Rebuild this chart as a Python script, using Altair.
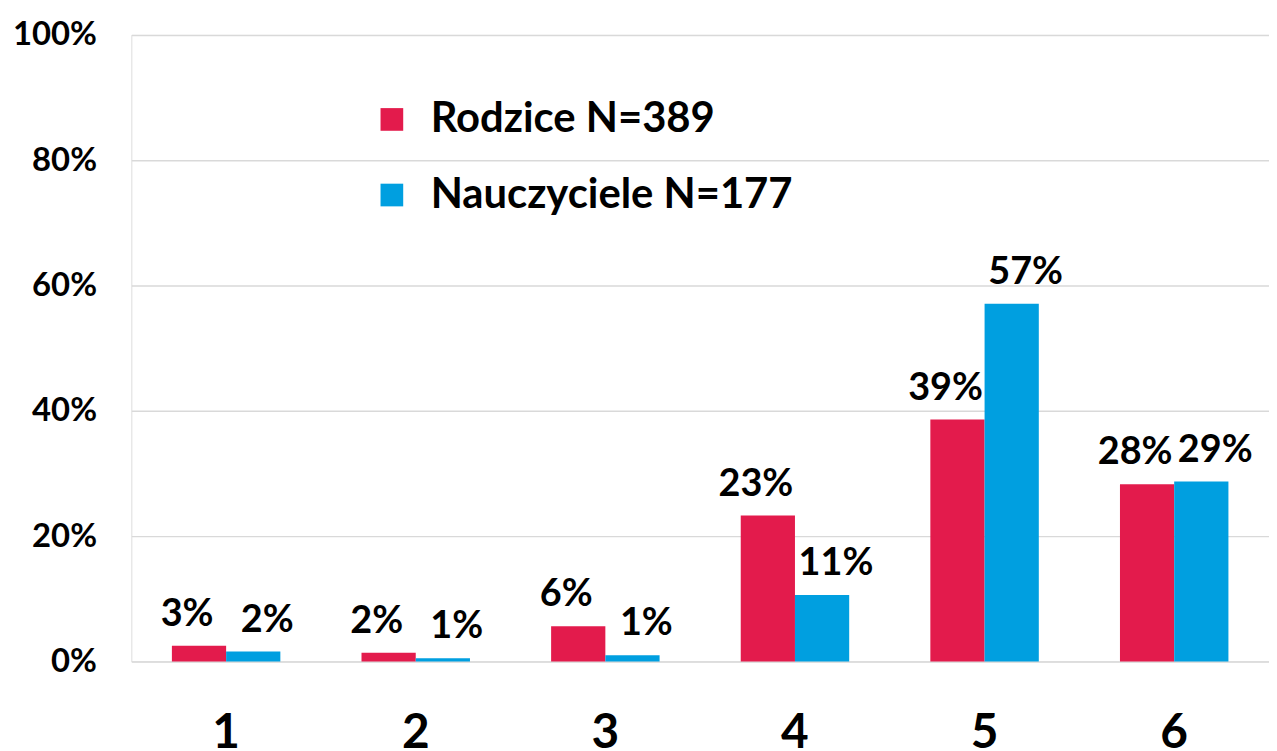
import altair as alt
import pandas as pd

categories = ["1", "2", "3", "4", "5", "6"]
series = ["Rodzice N=389", "Nauczyciele N=177"]
rodzice = [0.025, 0.014, 0.056, 0.233, 0.386, 0.283]
nauczyciele = [0.016, 0.005, 0.010, 0.106, 0.571, 0.287]
rodzice_labels = ["3%", "2%", "6%", "23%", "39%", "28%"]
nauczyciele_labels = ["2%", "1%", "1%", "11%", "57%", "29%"]
colors = ["#E31B4C", "#009FE0"]
y_ticks = [0, 0.2, 0.4, 0.6, 0.8, 1.0]

rows = []
for c, v, l in zip(categories, rodzice, rodzice_labels):
    rows.append({"cat": c, "series": series[0], "value": v, "label": l})
for c, v, l in zip(categories, nauczyciele, nauczyciele_labels):
    rows.append({"cat": c, "series": series[1], "value": v, "label": l})
df = pd.DataFrame(rows)

FONT = "Lato"

x_enc = alt.X(
    "cat:N",
    sort=categories,
    scale=alt.Scale(paddingInner=0.428, paddingOuter=0.214),
    axis=alt.Axis(
        title=None, labelAngle=0, labelFontSize=48, labelFont=FONT,
        labelFontWeight="bold", labelColor="#000000", labelPadding=49,
        ticks=False, domain=False, grid=False, labelBaseline="top",
    ),
)
xo_enc = alt.XOffset("series:N", sort=series, scale=alt.Scale(paddingInner=0, paddingOuter=0))
y_enc = alt.Y(
    "value:Q",
    scale=alt.Scale(domain=[0, 1], nice=False),
    axis=alt.Axis(
        title=None, values=y_ticks, format=".0%", labelFontSize=33,
        labelFont=FONT, labelFontWeight="bold", labelColor="#000000",
        labelPadding=35, ticks=False, domain=False, grid=True,
        gridColor="#D9D9D9", gridWidth=1.5,
    ),
)

bars = alt.Chart(df).mark_bar().encode(
    x=x_enc,
    xOffset=xo_enc,
    y=y_enc,
    color=alt.Color(
        "series:N",
        sort=series,
        scale=alt.Scale(domain=series, range=colors),
        legend=alt.Legend(
            title=None, orient="none", legendX=241, legendY=64,
            direction="vertical", symbolType="square", symbolSize=520,
            symbolStrokeWidth=0, labelFont=FONT, labelFontSize=42,
            labelFontWeight="bold", labelColor="#000000", labelOffset=18,
            rowPadding=34, padding=0, labelLimit=700,
        ),
    ),
)

text_style = dict(
    baseline="alphabetic", dy=-20, font=FONT, fontWeight="bold",
    fontSize=38, color="#000000",
)
text_enc = dict(
    x=alt.X("cat:N", sort=categories),
    xOffset=alt.XOffset("series:N", sort=series),
    y="value:Q",
    text="label:N",
)

texts_r = alt.Chart(df).transform_filter(
    alt.datum.series == series[0]
).mark_text(dx=-12, **text_style).encode(**text_enc)

texts_n = alt.Chart(df).transform_filter(
    alt.datum.series == series[1]
).mark_text(dx=14, **text_style).encode(**text_enc)

chart = alt.layer(bars, texts_r, texts_n).properties(
    width=1144,
    height=630,
    autosize=alt.AutoSizeParams(type="none"),
    padding={"left": 124, "top": 25, "right": 0, "bottom": 88},
).configure_view(stroke=None).configure(background="#ffffff")

chart.save("out.html", embed_options={"renderer": "svg", "actions": False})
